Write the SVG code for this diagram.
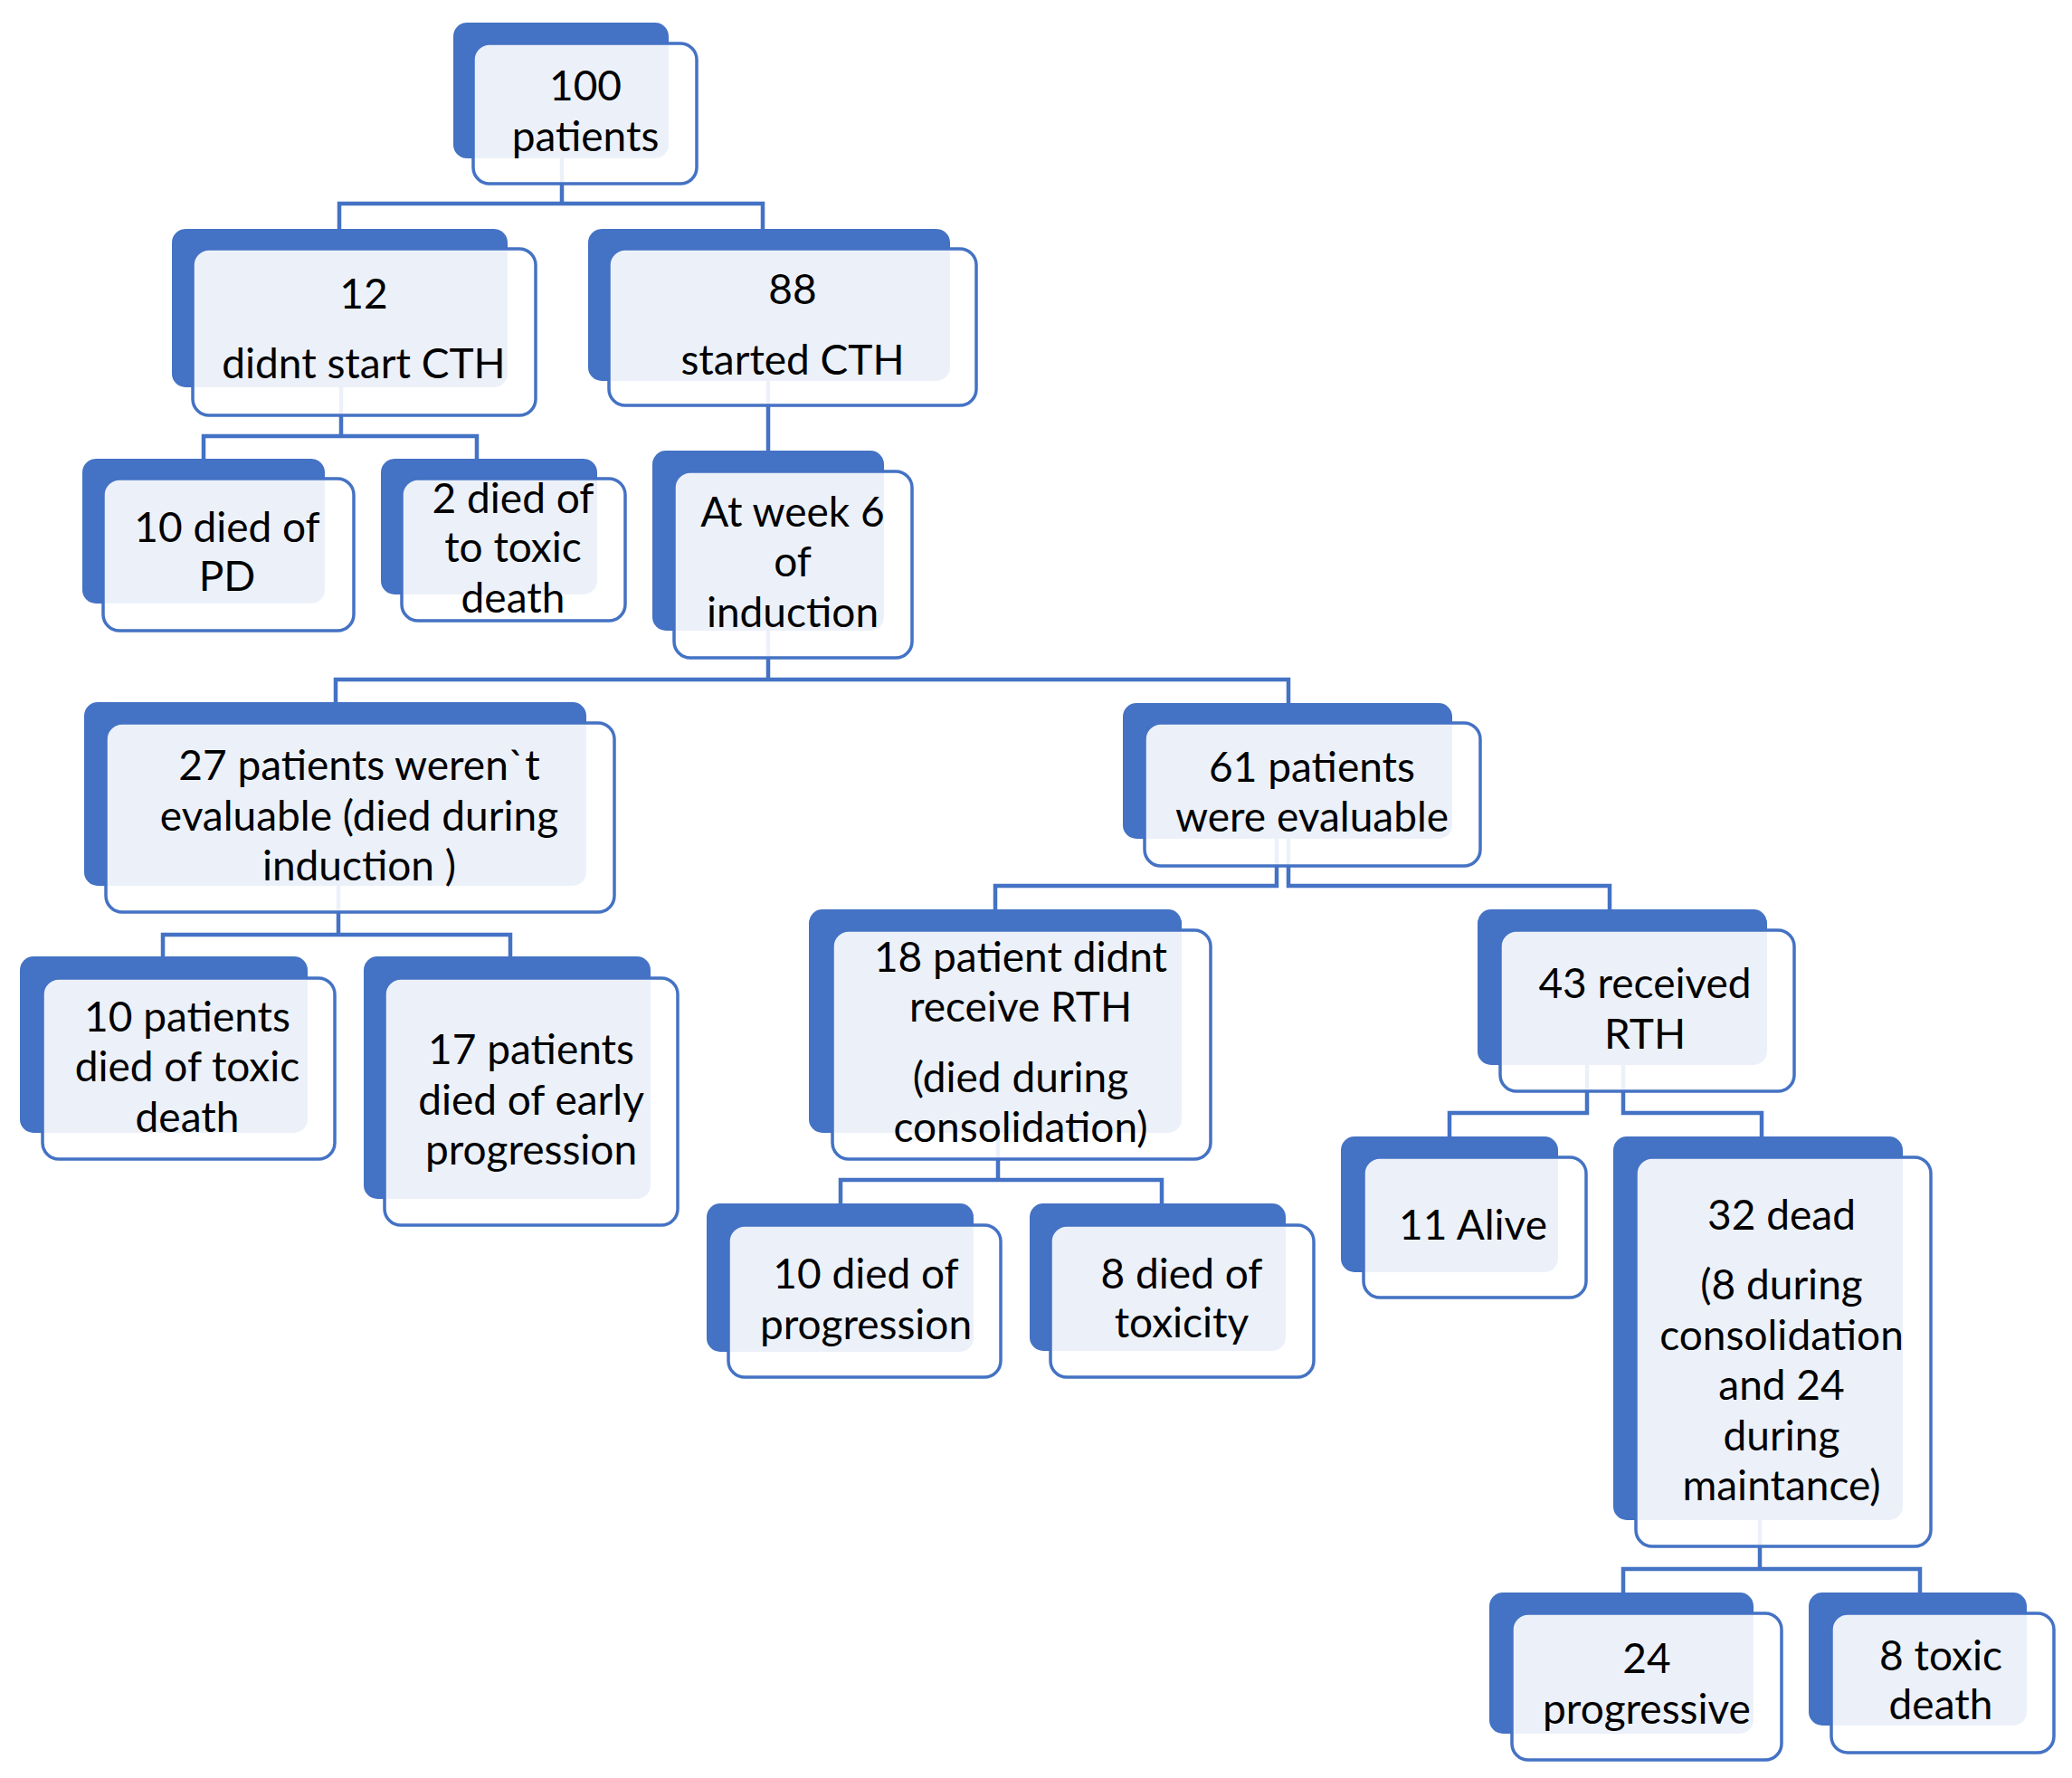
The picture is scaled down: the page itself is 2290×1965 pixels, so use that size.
<svg xmlns="http://www.w3.org/2000/svg" width="2290" height="1965" viewBox="0 0 2290 1965">
<style>
.bk{fill:#4472C4}
.fr{fill:#FFFFFF;fill-opacity:0.9;stroke:#4472C4;stroke-width:3.5}
.c{fill:none;stroke:#4472C4;stroke-width:4.5;stroke-linejoin:miter}
text{font-family:Lato,"Open Sans","Liberation Sans",sans-serif;font-size:46px;fill:#000;text-anchor:middle}
</style>
<rect width="2290" height="1965" fill="#FFFFFF"/>
<g id="connectors">
<path class="c" d="M621,175V225M375,253V225H843V253"/>
<path class="c" d="M377,428V482M225,507V482H527V507"/>
<path class="c" d="M849,421V498"/>
<path class="c" d="M849,697V751M371,776V751H1424V777"/>
<path class="c" d="M374,979V1033M180,1057V1033H564V1057"/>
<path class="c" d="M1411,927V979H1100V1005"/>
<path class="c" d="M1424,927V979H1779V1005"/>
<path class="c" d="M1103,1252V1304M929,1330V1304H1284V1330"/>
<path class="c" d="M1754,1177V1230H1602V1256"/>
<path class="c" d="M1794,1177V1230H1947V1256"/>
<path class="c" d="M1945,1680V1734M1794,1760V1734H2122V1760"/>
</g>
<g id="n-100">
<rect class="bk" x="501" y="25" width="238" height="150" rx="15"/>
<rect class="fr" x="523" y="48" width="247" height="155" rx="18"/>
<text x="647" y="111">100</text><text x="647" y="167">patients</text>
</g>
<g id="n-12">
<rect class="bk" x="190" y="253" width="371" height="175" rx="15"/>
<rect class="fr" x="213" y="275" width="379" height="184" rx="18"/>
<text x="402" y="341">12</text><text x="402" y="418">didnt start CTH</text>
</g>
<g id="n-88">
<rect class="bk" x="650" y="253" width="400" height="168" rx="15"/>
<rect class="fr" x="673" y="275" width="406" height="173" rx="18"/>
<text x="876" y="336">88</text><text x="876" y="414">started CTH</text>
</g>
<g id="n-10pd">
<rect class="bk" x="91" y="507" width="268" height="160" rx="15"/>
<rect class="fr" x="114" y="529" width="277" height="168" rx="18"/>
<text x="251" y="599">10 died of</text><text x="251" y="653">PD</text>
</g>
<g id="n-2tox">
<rect class="bk" x="421" y="507" width="239" height="150" rx="15"/>
<rect class="fr" x="444" y="529" width="247" height="157" rx="18"/>
<text x="567" y="567">2 died of</text><text x="567" y="621">to toxic</text><text x="567" y="677">death</text>
</g>
<g id="n-week6">
<rect class="bk" x="721" y="498" width="256" height="199" rx="15"/>
<rect class="fr" x="745" y="521" width="263" height="206" rx="18"/>
<text x="876" y="582">At week 6</text><text x="876" y="637">of</text><text x="876" y="693">induction</text>
</g>
<g id="n-27">
<rect class="bk" x="93" y="776" width="555" height="203" rx="15"/>
<rect class="fr" x="117" y="799" width="562" height="209" rx="18"/>
<text x="397" y="862">27 patients weren`t</text><text x="397" y="918">evaluable (died during</text><text x="397" y="973">induction )</text>
</g>
<g id="n-61">
<rect class="bk" x="1241" y="777" width="364" height="150" rx="15"/>
<rect class="fr" x="1265" y="799" width="371" height="158" rx="18"/>
<text x="1450" y="864">61 patients</text><text x="1450" y="919">were evaluable</text>
</g>
<g id="n-10tox">
<rect class="bk" x="22" y="1057" width="318" height="195" rx="15"/>
<rect class="fr" x="47" y="1081" width="323" height="200" rx="18"/>
<text x="207" y="1140">10 patients</text><text x="207" y="1195">died of toxic</text><text x="207" y="1251">death</text>
</g>
<g id="n-17">
<rect class="bk" x="402" y="1057" width="317" height="268" rx="15"/>
<rect class="fr" x="425" y="1081" width="324" height="273" rx="18"/>
<text x="587" y="1176">17 patients</text><text x="587" y="1232">died of early</text><text x="587" y="1287">progression</text>
</g>
<g id="n-18">
<rect class="bk" x="894" y="1005" width="412" height="247" rx="15"/>
<rect class="fr" x="920" y="1028" width="418" height="253" rx="18"/>
<text x="1128" y="1074">18 patient didnt</text><text x="1128" y="1129">receive RTH</text><text x="1128" y="1207">(died during</text><text x="1128" y="1262">consolidation)</text>
</g>
<g id="n-43">
<rect class="bk" x="1633" y="1005" width="320" height="172" rx="15"/>
<rect class="fr" x="1658" y="1028" width="325" height="178" rx="18"/>
<text x="1818" y="1103">43 received</text><text x="1818" y="1159">RTH</text>
</g>
<g id="n-10prog">
<rect class="bk" x="781" y="1330" width="295" height="164" rx="15"/>
<rect class="fr" x="805" y="1354" width="301" height="168" rx="18"/>
<text x="957" y="1424">10 died of</text><text x="957" y="1480">progression</text>
</g>
<g id="n-8tox">
<rect class="bk" x="1138" y="1330" width="283" height="163" rx="15"/>
<rect class="fr" x="1161" y="1354" width="291" height="168" rx="18"/>
<text x="1306" y="1424">8 died of</text><text x="1306" y="1478">toxicity</text>
</g>
<g id="n-11">
<rect class="bk" x="1482" y="1256" width="240" height="150" rx="15"/>
<rect class="fr" x="1507" y="1279" width="246" height="155" rx="18"/>
<text x="1628" y="1370">11 Alive</text>
</g>
<g id="n-32">
<rect class="bk" x="1783" y="1256" width="320" height="424" rx="15"/>
<rect class="fr" x="1808" y="1279" width="326" height="430" rx="18"/>
<text x="1969" y="1359">32 dead</text><text x="1969" y="1436">(8 during</text><text x="1969" y="1492">consolidation</text><text x="1969" y="1547">and 24</text><text x="1969" y="1603">during</text><text x="1969" y="1658">maintance)</text>
</g>
<g id="n-24">
<rect class="bk" x="1646" y="1760" width="292" height="156" rx="15"/>
<rect class="fr" x="1671" y="1783" width="298" height="162" rx="18"/>
<text x="1820" y="1849">24</text><text x="1820" y="1905">progressive</text>
</g>
<g id="n-8toxd">
<rect class="bk" x="1999" y="1760" width="241" height="147" rx="15"/>
<rect class="fr" x="2024" y="1783" width="246" height="154" rx="18"/>
<text x="2145" y="1846">8 toxic</text><text x="2145" y="1900">death</text>
</g>
</svg>
